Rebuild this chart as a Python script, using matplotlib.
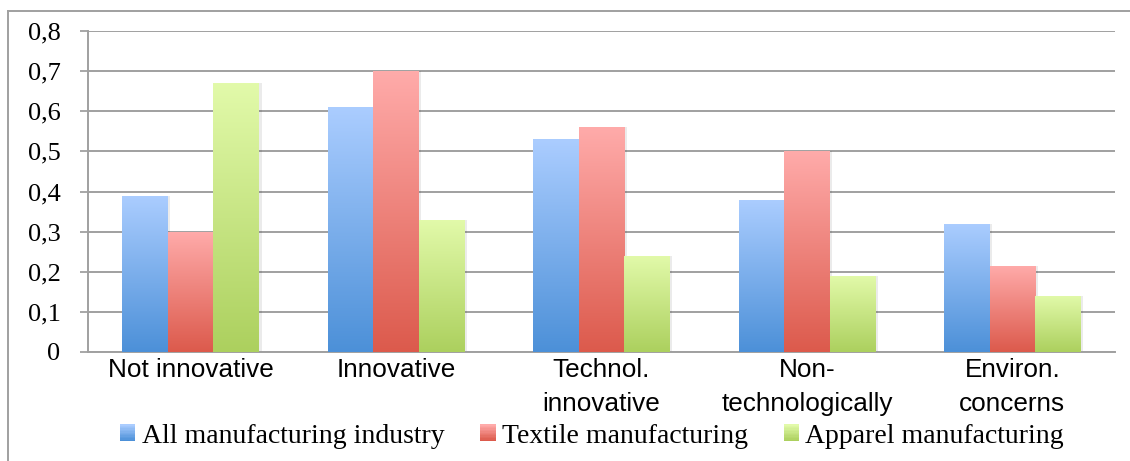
import numpy as np
import matplotlib
matplotlib.use("Agg")
import matplotlib.pyplot as plt
from matplotlib.lines import Line2D
from matplotlib.patches import Patch, Rectangle
from matplotlib.colors import LinearSegmentedColormap
from matplotlib.legend_handler import HandlerBase

categories = ["Not innovative", "Innovative", "Technol.\ninnovative",
              "Non-\ntechnologically", "Environ.\nconcerns"]
series_names = ["All manufacturing industry", "Textile manufacturing",
                "Apparel manufacturing"]
all_manufacturing = [0.39, 0.61, 0.53, 0.38, 0.32]
textile = [0.30, 0.70, 0.56, 0.50, 0.215]
apparel = [0.67, 0.33, 0.24, 0.19, 0.14]
yticks = [0, 0.1, 0.2, 0.3, 0.4, 0.5, 0.6, 0.7, 0.8]
ytick_labels = ["0", "0,1", "0,2", "0,3", "0,4", "0,5", "0,6", "0,7", "0,8"]

# gradient (top, bottom) colours per series
grads = [("#abcdff", "#4c90d8"), ("#ffabaa", "#dc5a4c"), ("#e2faaa", "#acd05e")]
mids = ["#7fb0ec", "#ef8279", "#c8e587"]
cmaps = [LinearSegmentedColormap.from_list("g%d" % i, [grads[i][1], grads[i][0]])
         for i in range(3)]

fig = plt.figure(figsize=(11.30, 4.61), dpi=100)
W, H = 1130, 461
ax = fig.add_axes([88 / W, 1 - 352 / H, (1115 - 88) / W, (352 - 31) / H])

x = np.arange(len(categories))
bw = 0.222
data = [all_manufacturing, textile, apparel]
for i, vals in enumerate(data):
    bars = ax.bar(x + (i - 1) * bw, vals, width=bw, color=mids[i], zorder=3,
                  linewidth=0)
    for b in bars:
        sx, sy = b.get_x(), b.get_y()
        shadow = Rectangle((sx + 0.012, sy), b.get_width(), b.get_height(),
                           facecolor="#000000", alpha=0.08, zorder=2.5,
                           linewidth=0)
        ax.add_patch(shadow)
        h = b.get_height()
        grad = np.linspace(0, 1, 256).reshape(-1, 1)
        im = ax.imshow(grad, cmap=cmaps[i], origin="lower", aspect="auto",
                       extent=[sx, sx + b.get_width(), 0, h], zorder=4,
                       interpolation="bilinear")
        im.set_clip_path(b)

ax.set_xlim(-0.5, len(categories) - 0.5)
ax.set_ylim(0, 0.8)
ax.set_yticks(yticks)
ax.set_yticklabels(ytick_labels, fontfamily="Liberation Serif", fontsize=19)
ax.set_xticks(x)
ax.set_xticklabels(categories, fontfamily="Liberation Sans", fontsize=18.8,
                   linespacing=1.55)
ax.tick_params(axis="y", length=5.8, width=1.3, color="#a0a0a0", pad=14)
ax.tick_params(axis="x", length=0, pad=4)
ax.yaxis.grid(True, color="#a0a0a0", linewidth=1.4, zorder=0)
ax.set_axisbelow(True)
for s in ["top", "right"]:
    ax.spines[s].set_visible(False)
for s in ["left", "bottom"]:
    ax.spines[s].set_color("#a0a0a0")
    ax.spines[s].set_linewidth(1.4)


class GradientHandler(HandlerBase):
    def __init__(self, cmap):
        super().__init__()
        self.cmap = cmap

    def create_artists(self, legend, orig_handle, xdescent, ydescent, width,
                       height, fontsize, trans):
        n = 12
        arts = []
        for k in range(n):
            r = Rectangle((-xdescent, -ydescent + height * k / n), width,
                          height / n + 0.2, facecolor=self.cmap(k / (n - 1)),
                          edgecolor="none", transform=trans)
            arts.append(r)
        return arts


handles = [Patch(facecolor=mids[i], edgecolor="none") for i in range(3)]
leg = fig.legend(handles, series_names, loc="center",
                 bbox_to_anchor=(592 / W, 1 - 436 / H),
                 ncol=3, frameon=False,
                 prop={"family": "Liberation Serif", "size": 20},
                 handlelength=0.55, handleheight=0.55, handletextpad=0.22,
                 columnspacing=1.3,
                 handler_map={handles[i]: GradientHandler(cmaps[i]) for i in range(3)})

# outer chart frame (top and left only visible)
fig.add_artist(Line2D([8 / W, 1.0], [1 - 11 / H, 1 - 11 / H], color="#a0a0a0",
                      linewidth=1.4, transform=fig.transFigure))
fig.add_artist(Line2D([8 / W, 8 / W], [1 - 11 / H, 0], color="#a0a0a0",
                      linewidth=1.4, transform=fig.transFigure))

fig.savefig("out.png", dpi=100)
